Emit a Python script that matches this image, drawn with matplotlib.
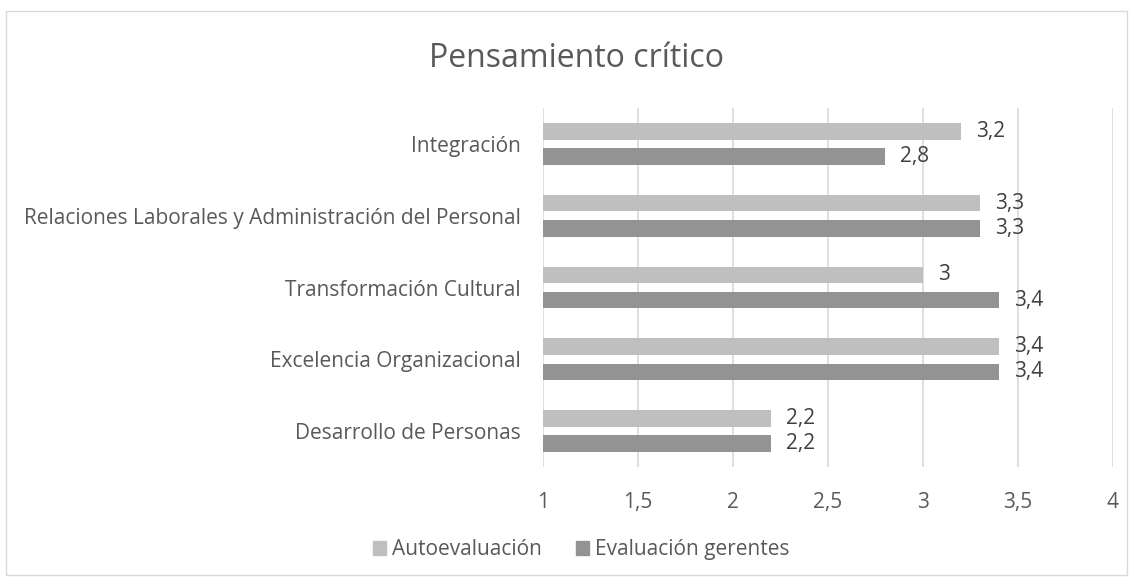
import matplotlib.pyplot as plt
import numpy as np
from matplotlib.patches import Rectangle

plt.rcParams['font.family'] = ['Open Sans', 'DejaVu Sans']

# datos (de abajo hacia arriba)
categorias = ['Desarrollo de Personas', 'Excelencia Organizacional', 'Transformación Cultural',
              'Relaciones Laborales y Administración del Personal', 'Integración']
autoevaluacion = [2.2, 3.4, 3.0, 3.3, 3.2]
evaluacion_gerentes = [2.2, 3.4, 3.4, 3.3, 2.8]
ticks_x = [1, 1.5, 2, 2.5, 3, 3.5, 4]

c_auto = '#bfbfbf'
c_ger = '#939393'
c_txt = '#595959'
c_val = '#404040'
fs = 15

fig = plt.figure(figsize=(11.33, 5.82), dpi=100)
ax = fig.add_axes([0.479, 0.1976, 0.503, 0.6168])

y = np.arange(len(categorias))
off = 0.175
h = 0.23
ax.barh(y + off, [v - 1 for v in autoevaluacion], left=1, height=h, color=c_auto, zorder=3)
ax.barh(y - off, [v - 1 for v in evaluacion_gerentes], left=1, height=h, color=c_ger, zorder=3)

def fmt(v):
    return ('%g' % v).replace('.', ',')

for i in range(len(categorias)):
    ax.text(autoevaluacion[i] + 0.08, y[i] + off, fmt(autoevaluacion[i]), va='center', ha='left',
            fontsize=fs, color=c_val)
    ax.text(evaluacion_gerentes[i] + 0.08, y[i] - off, fmt(evaluacion_gerentes[i]), va='center', ha='left',
            fontsize=fs, color=c_val)

ax.set_xlim(1, 4)
ax.set_ylim(-0.5, 4.5)
ax.set_xticks(ticks_x)
ax.set_xticklabels([fmt(t) for t in ticks_x], fontsize=fs, color=c_txt)
ax.set_yticks(y)
ax.set_yticklabels(categorias, fontsize=fs, color=c_txt)
ax.tick_params(length=0)
ax.tick_params(axis='x', pad=18)
ax.tick_params(axis='y', pad=16)
ax.grid(axis='x', color='#d9d9d9', linewidth=1.2, zorder=0)
for s in ax.spines.values():
    s.set_visible(False)

fig.text(0.509, 0.9, 'Pensamiento crítico', ha='center', va='center', fontsize=23, color=c_txt)

# leyenda
fig.legend(handles=[Rectangle((0, 0), 1, 1, color=c_auto), Rectangle((0, 0), 1, 1, color=c_ger)],
           labels=['Autoevaluación', 'Evaluación gerentes'], loc='center', bbox_to_anchor=(0.513, 0.055),
           ncol=2, frameon=False, fontsize=fs, handlelength=0.65, handleheight=0.65,
           handletextpad=0.3, columnspacing=1.6, labelcolor=c_txt)

# borde del gráfico
fig.patches.append(Rectangle((0.005, 0.012), 0.99, 0.969, transform=fig.transFigure,
                             fill=False, edgecolor='#d9d9d9', linewidth=1))

fig.savefig('out.png', dpi=100)
